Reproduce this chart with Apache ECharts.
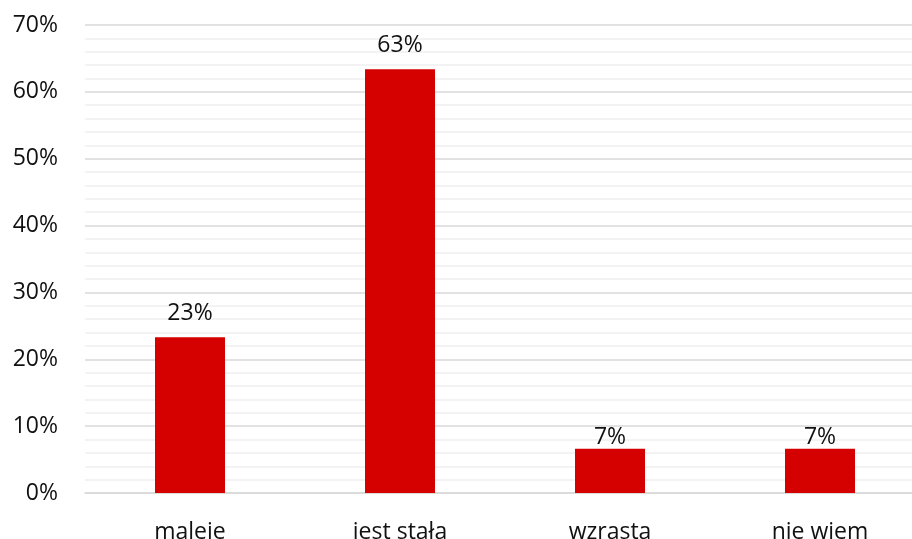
<!DOCTYPE html>
<html>
<head>
<meta charset="utf-8">
<script src="https://cdn.jsdelivr.net/npm/echarts@6/dist/echarts.min.js"></script>
<style>
html,body{margin:0;padding:0;background:#fff;}
#chart{width:912px;height:539px;}
</style>
</head>
<body>
<div id="chart"></div>
<script>
// Categories and shares (percent)
const categories = ['maleje', 'jest stała', 'wzrasta', 'nie wiem'];
const shares = [23.3, 63.4, 6.6, 6.6];
// Distance of each value label above its bar
const labelGaps = [12, 12, 0, 0];

const yTicks = { min: 0, max: 70, interval: 10 };
const FONT = '"Open Sans", "Noto Sans", sans-serif';

const chart = echarts.init(document.getElementById('chart'));
chart.setOption({
  animation: false,
  // plot area runs a little past the right edge of the canvas
  grid: { left: 85, width: 840, top: 25, bottom: 46, outerBoundsMode: 'none', containLabel: false },
  xAxis: {
    type: 'category',
    data: categories,
    axisLine: { show: true, lineStyle: { color: '#d9d9d9', width: 1.5 } },
    axisTick: { show: false },
    axisLabel: { color: '#111', fontSize: 23, fontFamily: FONT, margin: 28 }
  },
  yAxis: {
    type: 'value',
    min: yTicks.min, max: yTicks.max, interval: yTicks.interval,
    axisLine: { show: false },
    axisTick: { show: false },
    axisLabel: { color: '#111', fontSize: 23, fontFamily: FONT, margin: 27, formatter: v => v + '%' },
    splitLine: { show: true, lineStyle: { color: '#d9d9d9', width: 1.5 } },
    minorTick: { show: false, splitNumber: 5 },
    minorSplitLine: { show: true, lineStyle: { color: '#f0f0f0', width: 1.5 } }
  },
  series: [{
    type: 'bar',
    barWidth: 70,
    data: shares.map((v, i) => ({
      value: v,
      label: { distance: labelGaps[i] }
    })),
    itemStyle: { color: '#d50000' },
    label: {
      show: true,
      position: 'top',
      color: '#111',
      fontSize: 23,
      fontFamily: FONT,
      formatter: p => Math.round(p.value) + '%'
    }
  }]
});
</script>
</body>
</html>
